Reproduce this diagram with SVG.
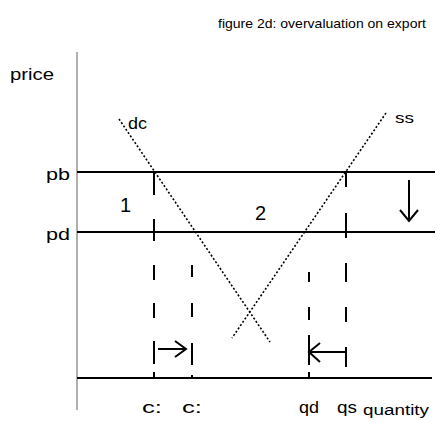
<svg xmlns="http://www.w3.org/2000/svg" width="437" height="423" viewBox="0 0 437 423">
<style>
text{font-family:"Liberation Sans",Arial,sans-serif;fill:#000;font-size:17px}
.t{font-size:13px}
.n{font-size:20px}
.sm{font-size:14px}
.ax{stroke:#000;stroke-width:2;fill:none}
.dot{stroke:#000;stroke-width:1.6;stroke-dasharray:2 2;fill:none}
.dash{stroke:#000;stroke-width:2;fill:none}
.s{stroke:#000;stroke-width:2;fill:none}
</style>
<rect width="437" height="423" fill="#fff"/>
<text class="t" x="218" y="28" textLength="208" lengthAdjust="spacingAndGlyphs">figure 2d: overvaluation on export</text>
<g id="axes">
<line x1="77" y1="52" x2="77" y2="410" stroke="#b0b0b0" stroke-width="2"/>
<line class="ax" x1="77" y1="378" x2="432" y2="378"/>
<text x="10" y="80" textLength="44" lengthAdjust="spacingAndGlyphs">price</text>
<text class="sm" x="363" y="415" textLength="66" lengthAdjust="spacingAndGlyphs">quantity</text>
</g>
<g id="pb"><line class="ax" x1="77" y1="172" x2="435" y2="172"/><text x="46" y="180" textLength="24" lengthAdjust="spacingAndGlyphs">pb</text></g>
<g id="pd"><line class="ax" x1="77" y1="232" x2="435" y2="232"/><text x="46" y="240" textLength="24" lengthAdjust="spacingAndGlyphs">pd</text></g>
<g id="dd"><line class="dot" x1="119" y1="119" x2="270" y2="342"/><text x="128" y="129" textLength="19" lengthAdjust="spacingAndGlyphs">dc</text></g>
<g id="ss"><line class="dot" x1="386" y1="113" x2="232" y2="338"/><text class="sm" x="395" y="123" textLength="19" lengthAdjust="spacingAndGlyphs">ss</text></g>
<g id="connectors">
<line class="dash" x1="154" y1="172" x2="154" y2="378" stroke-dasharray="23 24 22 24 15 23 15 23"/>
<line class="dash" x1="192" y1="232" x2="192" y2="378" stroke-dasharray="0 33 12 26 14 26 22 10 3"/>
<line class="dash" x1="309" y1="232" x2="309" y2="378" stroke-dasharray="0 40 10 25 13 15 30 8 5"/>
<line class="dash" x1="346" y1="172" x2="346" y2="378" stroke-dasharray="15 26 25 25 19 25 15 25 20"/>
<line class="s" x1="154" y1="343" x2="154" y2="350"/>
<line class="s" x1="158" y1="349" x2="186" y2="349"/>
<polyline class="s" points="175,341 186,349 175,357"/>
<line class="s" x1="309" y1="352" x2="346" y2="352"/>
<polyline class="s" points="320,343 309,352 320,362"/>
<line class="s" x1="409" y1="180" x2="409" y2="221"/>
<polyline class="s" points="400,210 409,221 418,210"/>
<line class="s" x1="154" y1="372" x2="154" y2="378"/>
<line class="s" x1="309" y1="372" x2="309" y2="378"/>
</g>
<text class="n" x="120" y="212">1</text>
<text class="n" x="255" y="220">2</text>
<text x="142" y="413" textLength="20" lengthAdjust="spacingAndGlyphs">c:</text>
<text x="182" y="413" textLength="20" lengthAdjust="spacingAndGlyphs">c:</text>
<text x="299" y="413" textLength="20" lengthAdjust="spacingAndGlyphs">qd</text>
<text x="337" y="413" textLength="20" lengthAdjust="spacingAndGlyphs">qs</text>
</svg>
